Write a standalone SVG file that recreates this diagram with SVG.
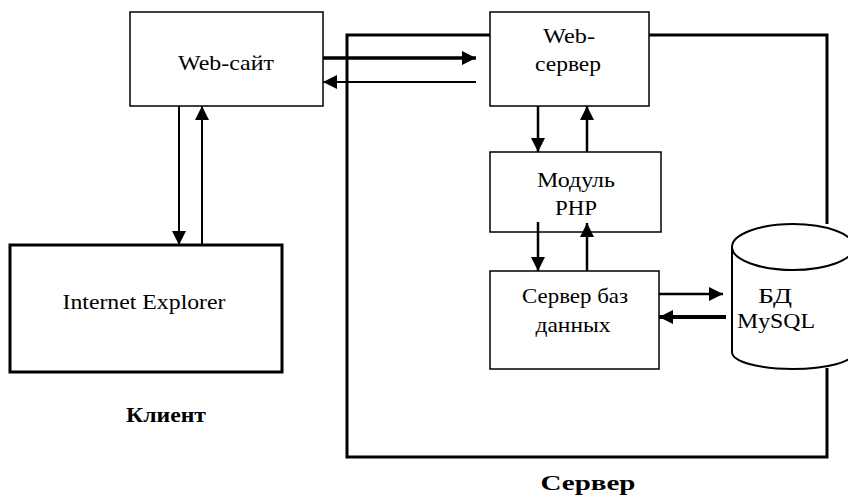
<svg xmlns="http://www.w3.org/2000/svg" width="848" height="495" viewBox="0 0 848 495">
<style>
text{font-family:"Liberation Serif","Times New Roman",serif;font-size:22px;fill:#000;text-anchor:middle}
.b{font-weight:bold}
.box{fill:#fff;stroke:#000;stroke-width:1.5}
.thick{stroke-width:3}
.ln{stroke:#000;fill:none}
</style>
<defs>
<marker id="ah" viewBox="0 0 10 10" refX="10" refY="5" markerWidth="14" markerHeight="14" markerUnits="userSpaceOnUse" orient="auto">
<path d="M0,0 L10,5 L0,10 z" fill="#000"/>
</marker>
</defs>
<g id="server-frame">
<path class="ln" stroke-width="3" d="M827,224 L827,35 L347,35 L347,457 L827,457 L827,368"/>
</g>
<g id="website"><rect class="box" x="130" y="12" width="193" height="94"/><text x="226" y="70" textLength="96" lengthAdjust="spacingAndGlyphs">Web-сайт</text></g>
<g id="webserver"><rect class="box" x="490" y="12" width="159" height="94"/><text x="569" y="43" textLength="52" lengthAdjust="spacingAndGlyphs">Web-</text><text x="568" y="71" textLength="66" lengthAdjust="spacingAndGlyphs">сервер</text></g>
<g id="php"><rect class="box" x="490" y="152" width="171" height="80"/><text x="576" y="187" textLength="78" lengthAdjust="spacingAndGlyphs">Модуль</text><text x="576" y="215" textLength="42" lengthAdjust="spacingAndGlyphs">PHP</text></g>
<g id="dbserver"><rect class="box" x="490" y="271" width="169" height="98"/><text x="575" y="303" textLength="106" lengthAdjust="spacingAndGlyphs">Сервер баз</text><text x="573" y="332" textLength="75" lengthAdjust="spacingAndGlyphs">данных</text></g>
<g id="ie"><rect class="box thick" x="10" y="245" width="272" height="127"/><text x="144" y="309" textLength="163" lengthAdjust="spacingAndGlyphs">Internet Explorer</text></g>
<g id="mysql">
<path fill="#fff" stroke="#000" stroke-width="2" d="M732,247 L732,352 C732,362 760,369 793,369 C826,369 854,362 854,352 L854,247"/>
<ellipse cx="793" cy="247" rx="61" ry="23" fill="#fff" stroke="#000" stroke-width="2"/>
<text x="775" y="303" textLength="34" lengthAdjust="spacingAndGlyphs">БД</text><text x="776" y="328" textLength="78" lengthAdjust="spacingAndGlyphs">MySQL</text>
</g>
<g id="labels"><text class="b" x="166" y="422" textLength="80" lengthAdjust="spacingAndGlyphs">Клиент</text><text class="b" x="588" y="490" textLength="95" lengthAdjust="spacingAndGlyphs">Сервер</text></g>
<g id="connectors" class="ln" marker-end="url(#ah)">
<line x1="323" y1="58" x2="476" y2="58" stroke-width="3.5"/>
<line x1="476" y1="82" x2="323" y2="82" stroke-width="2"/>
<line x1="179" y1="106" x2="179" y2="245" stroke-width="2"/>
<line x1="202" y1="245" x2="202" y2="106" stroke-width="2"/>
<line x1="538" y1="106" x2="538" y2="152" stroke-width="2.5"/>
<line x1="587" y1="152" x2="587" y2="106" stroke-width="2.5"/>
<line x1="538" y1="222" x2="538" y2="271" stroke-width="2.5"/>
<line x1="587" y1="271" x2="587" y2="223" stroke-width="2.5"/>
<line x1="659" y1="294" x2="723" y2="294" stroke-width="2.5"/>
<line x1="726" y1="317" x2="659" y2="317" stroke-width="4"/>
</g>
</svg>
